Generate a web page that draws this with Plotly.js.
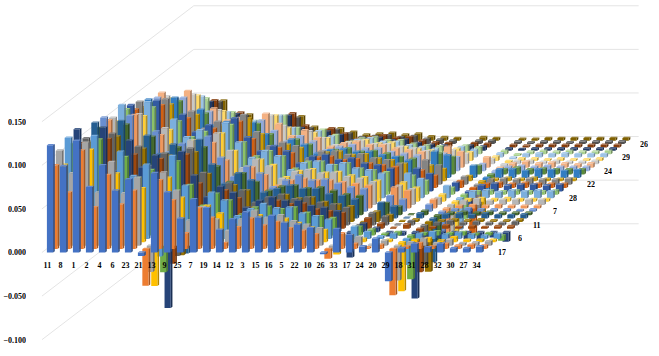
<!DOCTYPE html>
<html><head><meta charset="utf-8">
<script src="https://cdn.plot.ly/plotly-3.0.1.min.js"></script>
<style>html,body{margin:0;padding:0;background:#fff}#c{width:659px;height:356px}#c text{opacity:.99 !important}</style>
</head><body><div id="c"></div>
<script>
const categories=['11','8','1','2','4','6','23','21','13','9','25','7','19','14','12','3','15','16','5','22','10','26','33','17','24','20','29','18','31','28','32','30','27','34'];
const depthLabels=['17','','','','6','','','','11','','','','7','','','','28','','','','22','','','','24','','','','29','','','','26',''];
const valueTicks=[-0.1,-0.05,0,0.05,0.1,0.15];
const colors=['#4472C4','#ED7D31','#A5A5A5','#FFC000','#5B9BD5','#70AD47','#264478','#9E480E','#636363','#997300','#255E91','#43682B','#698ED0','#F1975A','#B7B7B7','#FFCD33','#7CAFDD','#8CC168','#335AA1','#D26012','#848484','#CC9A00','#327DC2','#5A8B39','#8FAADC','#F4B183','#C9C9C9','#FFD966','#9DC3E6','#A9D18E','#203864','#843C0C','#525252','#7F6000'];
const s0=[123,99,128,75,100,71,84,-4,91,69,39,61,51,26,38,46,40,42,34,32,28,-2,27,20,7,16,-33,5,10,6,10,5,5,7];
const s1=[96,65,113,48,85,51,67,-42,79,56,18,47,36,7,25,35,27,31,24,21,17,-11,18,6,2,5,-53,3,7,3,6,4,5,4];
const s2=[109,83,118,61,96,60,78,-30,84,63,29,44,30,17,30,40,32,35,28,24,20,-6,12,10,1,6,-40,4,8,3,7,3,4,5];
const s3=[89,75,106,52,79,55,62,-50,74,51,26,42,33,20,28,31,25,27,22,17,14,-14,8,4,1,3,-56,3,5,2,6,3,3,3];
const s4=[116,90,118,68,100,72,85,-20,95,61,36,53,44,26,34,40,35,36,29,26,22,-5,14,8,3,6,-30,6,8,5,7,5,4,6];
const s5=[105,80,110,62,90,66,75,-42,85,58,34,48,40,24,32,33,30,32,26,22,20,-8,10,7,2,4,-50,3,5,3,4,2,3,-6];
const s6=[118,90,120,70,105,74,88,-87,92,65,40,52,45,28,36,40,36,36,30,28,24,-29,10,5,-5,-4,-76,-8,-7,-6,-8,-11,-6,-11];
const s7=[98,82,103,64,85,64,80,-40,85,52,34,44,35,24,28,32,28,29,22,20,18,-5,12,6,1,5,-50,2,4,2,3,2,3,3];
const s8=[100,84,105,66,90,68,82,-35,88,60,36,48,40,26,32,35,30,32,26,24,20,-3,14,10,1,5,-45,3,5,3,4,3,3,4];
const s9=[92,78,98,60,84,62,76,-38,80,55,32,42,36,22,28,31,27,28,23,20,18,-3,12,8,1,3,-57,2,3,2,3,2,2,3];
const s10=[110,86,112,72,95,74,85,-40,90,62,40,52,44,30,34,38,34,34,28,26,22,-2,18,14,1,6,-50,5,6,4,6,4,4,5];
const s11=[100,80,104,66,90,70,78,-30,78,56,38,48,38,28,33,34,31,32,28,24,22,-1,14,10,1,5,-42,3,4,3,4,3,3,3];
const s12=[108,82,110,66,92,68,78,-28,86,62,40,52,44,28,36,42,36,37,32,28,26,null,18,14,null,8,-40,3,4,3,3,3,2,3];
const s13=[101,78,107,62,84,60,63,-20,75,55,38,47,38,26,32,34,32,32,30,28,26,null,24,20,null,10,-35,3,4,3,4,3,3,3];
const s14=[100,78,104,64,88,66,74,-22,82,62,42,52,44,30,38,40,36,37,32,30,26,null,22,18,null,8,-30,5,7,5,6,6,6,6];
const s15=[92,74,98,60,82,62,70,-18,78,58,40,48,42,28,35,37,33,34,30,28,24,null,22,16,null,8,-38,3,4,3,4,3,3,3];
const s16=[107,82,110,68,90,70,78,-20,86,64,46,54,48,32,40,42,38,40,34,32,28,null,28,22,null,14,-36,8,9,7,9,8,9,8];
const s17=[98,76,100,64,84,66,72,-15,80,60,44,50,44,30,38,38,34,36,30,28,26,null,22,16,null,8,-28,4,5,4,5,4,4,5];
const s18=[99,78,104,66,88,68,76,-12,84,62,46,52,46,32,40,42,36,38,32,30,26,null,26,20,null,10,-30,7,9,7,8,8,7,8];
const s19=[90,72,95,60,80,62,68,-14,76,56,40,46,40,28,35,36,32,33,28,26,24,null,20,14,null,8,-54,5,6,5,6,5,5,5];
const s20=[95,74,98,62,84,64,72,-12,80,60,44,48,44,30,38,38,34,35,30,28,24,null,28,22,null,9,-36,6,7,6,7,6,6,7];
const s21=[85,68,88,56,76,58,64,-10,72,54,38,42,38,26,33,34,30,31,26,24,20,null,18,14,null,6,-38,3,4,3,4,3,3,3];
const s22=[90,72,92,60,78,60,64,-6,63,50,36,44,38,28,32,33,30,30,26,24,20,null,30,26,null,14,-15,10,10,8,10,9,8,9];
const s23=[82,66,84,54,70,54,58,-5,58,46,32,40,34,24,28,30,26,27,24,20,18,null,24,20,null,10,-10,6,8,6,7,6,6,6];
const s24=[84,68,84,56,68,54,56,-4,58,46,34,40,34,24,28,30,26,26,22,20,18,null,20,16,null,8,-8,5,6,5,6,5,5,5];
const s25=[86,68,88,58,68,54,57,-3,62,50,36,43,34,24,28,30,26,26,22,20,18,null,24,18,null,12,-6,5,7,5,6,5,4,5];
const s26=[78,62,80,52,62,50,52,-3,56,44,32,38,30,22,25,27,23,23,20,18,15,null,16,12,null,6,-4,4,4,3,4,3,3,4];
const s27=[72,58,75,48,57,44,46,-2,52,38,28,32,26,18,22,24,20,21,16,14,12,null,14,10,null,5,-3,3,3,2,3,2,2,3];
const s28=[68,54,70,44,52,40,42,-2,48,34,26,30,24,16,20,22,18,18,14,12,10,null,12,9,null,5,-2,4,5,4,5,4,4,4];
const s29=[62,50,64,40,48,36,38,-2,44,30,24,28,22,14,18,19,16,16,12,10,9,null,10,8,null,4,-2,3,4,3,4,3,3,4];
const s30=[54,44,56,36,42,32,32,-1,40,26,20,22,18,12,14,15,12,13,9,7,6,null,6,5,null,3,2,3,3,3,3,3,3,3];
const s31=[50,42,54,32,40,28,30,-1,39,25,18,22,16,10,12,14,11,12,8,6,5,null,5,4,null,3,2,3,3,3,3,3,3,3];
const s32=[44,38,48,28,32,24,26,-1,30,18,14,16,12,8,9,10,8,9,6,5,4,null,4,4,null,3,2,3,3,2,3,3,3,3];
const s33=[42,36,46,26,30,22,24,-1,28,16,12,14,10,7,8,9,7,8,5,4,3,null,4,3,null,2,2,3,3,3,3,3,3,3];
const rows=[s0,s1,s2,s3,s4,s5,s6,s7,s8,s9,s10,s11,s12,s13,s14,s15,s16,s17,s18,s19,s20,s21,s22,s23,s24,s25,s26,s27,s28,s29,s30,s31,s32,s33];

// oblique projection of the chart's depth axis onto the 2D axes
const PXX=13, PXY=872, ORIGX=50, ORIGY=252.5;
const shearX=4.44/PXX, shearY=3.39/PXY;
const barW=6.2/PXX, sideW=1.7/PXX, capH=1.3/PXY;
function mix(hex,t,target){
  const n=parseInt(hex.slice(1),16),r=n>>16,g=(n>>8)&255,b=n&255;
  const f=v=>Math.round(v+(target-v)*t);
  return `rgb(${f(r)},${f(g)},${f(b)})`;
}
const traces=[];
const wallX=[],wallY=[];
const leftC=-0.62, backS=34.2, rightC=33.6;
valueTicks.forEach(v=>{
  wallX.push(leftC,leftC+backS*shearX,rightC+backS*shearX,null);
  wallY.push(v,v+backS*shearY,v+backS*shearY,null);
});
traces.push({x:wallX,y:wallY,mode:'lines',line:{color:'#E4E4E4',width:1},hoverinfo:'skip',showlegend:false});
for(let s=rows.length-1;s>=0;s--){
  const fx=[],fy=[],sx=[],sy=[],tx=[],ty=[];
  rows[s].forEach((raw,c)=>{
    if(raw===null)return;
    const v=raw/1000, X=c+s*shearX-barW/2, Y0=s*shearY, Yv=v+Y0;
    const hi=Math.max(Y0,Yv), lo=Math.min(Y0,Yv);
    fx.push(X,X+barW,X+barW,X,X,null); fy.push(lo,lo,hi,hi,lo,null);
    sx.push(X+barW,X+barW+sideW,X+barW+sideW,X+barW,X+barW,null);
    sy.push(lo,lo+capH,hi+capH,hi,lo,null);
    tx.push(X,X+barW,X+barW+sideW,X+sideW,X,null);
    ty.push(hi,hi,hi+capH,hi+capH,hi,null);
  });
  const col=colors[s];
  traces.push({x:sx,y:sy,mode:'lines',line:{width:0},fill:'toself',fillcolor:mix(col,0.3,0),hoverinfo:'skip',showlegend:false});
  traces.push({x:fx,y:fy,mode:'lines',line:{width:0},fill:'toself',fillcolor:col,hoverinfo:'skip',showlegend:false});
  traces.push({x:tx,y:ty,mode:'lines',line:{width:0},fill:'toself',fillcolor:mix(col,0.18,255),hoverinfo:'skip',showlegend:false});
}
const W=659,H=356,L=27;
const mkFont=()=>({family:'"Liberation Serif",serif',size:8,color:'#000000',weight:700});
const annotations=depthLabels.map((t,s)=>t?({x:34.75+s*shearX,y:s*shearY,text:t,showarrow:false,font:mkFont(),xanchor:'center',yanchor:'middle'}):null).filter(Boolean);
Plotly.newPlot('c',traces,{
  width:W,height:H,margin:{l:L,r:0,t:0,b:0},paper_bgcolor:'#fff',plot_bgcolor:'#fff',showlegend:false,
  xaxis:{range:[(L-ORIGX)/PXX,(W-ORIGX)/PXX],anchor:'free',position:(H-ORIGY)/H,showgrid:false,zeroline:false,showline:false,
    tickmode:'array',tickvals:categories.map((_,i)=>i-0.2),ticktext:categories,ticks:'outside',ticklen:5,tickcolor:'rgba(0,0,0,0)',tickfont:mkFont()},
  yaxis:{range:[(ORIGY-H)/PXY,ORIGY/PXY],showgrid:false,zeroline:false,showline:false,
    tickmode:'array',tickvals:valueTicks,tickformat:'.3f',ticks:'',tickfont:mkFont(),ticklabelshift:1.7},
  annotations
},{displayModeBar:false,staticPlot:true});
</script></body></html>
